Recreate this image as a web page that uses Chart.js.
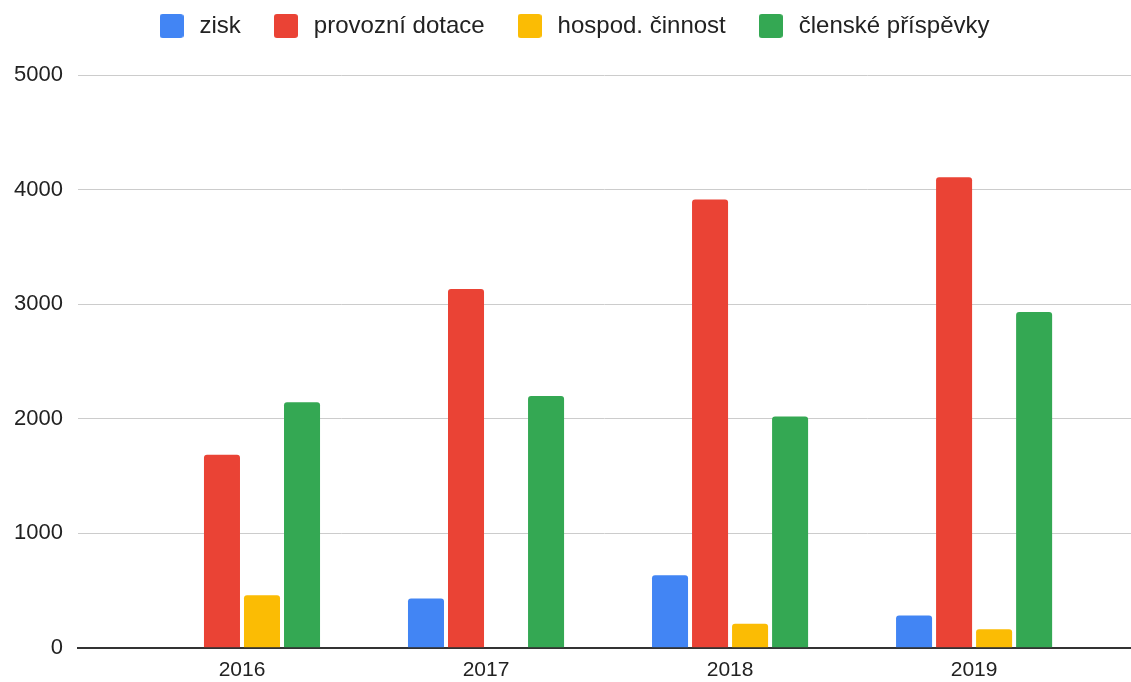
<!DOCTYPE html>
<html>
<head>
<meta charset="utf-8">
<script src="https://cdn.jsdelivr.net/npm/chart.js@4"></script>
<style>
  body { margin: 0; background: #fff; }
  #wrap { width: 1131px; height: 682px; }
</style>
</head>
<body>
<div id="wrap"><canvas id="chart"></canvas></div>
<script>
const years = ['2016', '2017', '2018', '2019'];
const seriesNames = ['zisk', 'provozní dotace', 'hospod. činnost', 'členské příspěvky'];
const zisk = [0, 430, 633, 283];
const provozniDotace = [1686, 3132, 3914, 4107];
const hospodCinnost = [458, 0, 210, 161];
const clenskePrispevky = [2143, 2199, 2018, 2931];
const yTicks = [0, 1000, 2000, 3000, 4000, 5000];
const colors = ['#4285F4', '#EA4335', '#FBBC04', '#34A853'];

function toPoints(values) {
    return values.map((v, i) => ({ x: i, y: v }));
}

function makeSet(label, values, color) {
    return {
        label: label,
        data: toPoints(values),
        backgroundColor: color,
        borderRadius: 3,
        borderSkipped: 'start',
        categoryPercentage: 0.656,
        barPercentage: 0.9
    };
}

// legend squares drawn as small canvases so the gap to the text can be wider
function legendIcon(color) {
    const c = document.createElement('canvas');
    c.width = 24;
    c.height = 24;
    const g = c.getContext('2d');
    g.fillStyle = color;
    g.beginPath();
    g.roundRect(0, 0, 24, 24, 3);
    g.fill();
    return c;
}
const icons = colors.map(legendIcon);

// extra space under the legend
const legendSpace = {
    id: 'legendSpace',
    beforeInit(chart) {
        const fit = chart.legend.fit;
        chart.legend.fit = function () {
            fit.bind(chart.legend)();
            this.height += 27;
        };
    }
};

const ctx = document.getElementById('chart').getContext('2d');

new Chart(ctx, {
    type: 'bar',
    data: {
        datasets: [
            makeSet(seriesNames[0], zisk, colors[0]),
            makeSet(seriesNames[1], provozniDotace, colors[1]),
            makeSet(seriesNames[2], hospodCinnost, colors[2]),
            makeSet(seriesNames[3], clenskePrispevky, colors[3])
        ]
    },
    plugins: [legendSpace],
    options: {
        responsive: true,
        maintainAspectRatio: false,
        animation: false,
        layout: { padding: { top: -15, right: 0, bottom: -11, left: 14 } },
        plugins: {
            legend: {
                position: 'top',
                labels: {
                    usePointStyle: true,
                    pointStyleWidth: 32,
                    boxHeight: 24,
                    padding: 29,
                    color: '#222',
                    font: { family: 'Liberation Sans', size: 24 },
                    generateLabels: chart =>
                        Chart.defaults.plugins.legend.labels.generateLabels(chart)
                            .map((item, i) => Object.assign(item, { pointStyle: icons[i] }))
                }
            },
            tooltip: { enabled: false }
        },
        scales: {
            x: {
                type: 'linear',
                offset: false,
                min: -0.672,
                max: 3.643,
                grid: { display: false, drawTicks: false },
                border: { color: '#333', width: 2 },
                afterBuildTicks: axis => {
                    axis.ticks = years.map((y, i) => ({ value: i }));
                },
                ticks: {
                    padding: 10,
                    color: '#222',
                    font: { family: 'Liberation Sans', size: 21 },
                    callback: v => years[v]
                }
            },
            y: {
                min: 0,
                max: 5000,
                afterBuildTicks: axis => {
                    axis.ticks = yTicks.map(v => ({ value: v }));
                },
                afterFit: axis => { axis.width = 64; },
                grid: { color: '#cccccc', lineWidth: 1, drawTicks: false },
                border: { display: false },
                ticks: {
                    padding: 15,
                    color: '#222',
                    font: { family: 'Liberation Sans', size: 22 },
                    callback: v => String(v)
                }
            }
        }
    }
});
</script>
</body>
</html>
